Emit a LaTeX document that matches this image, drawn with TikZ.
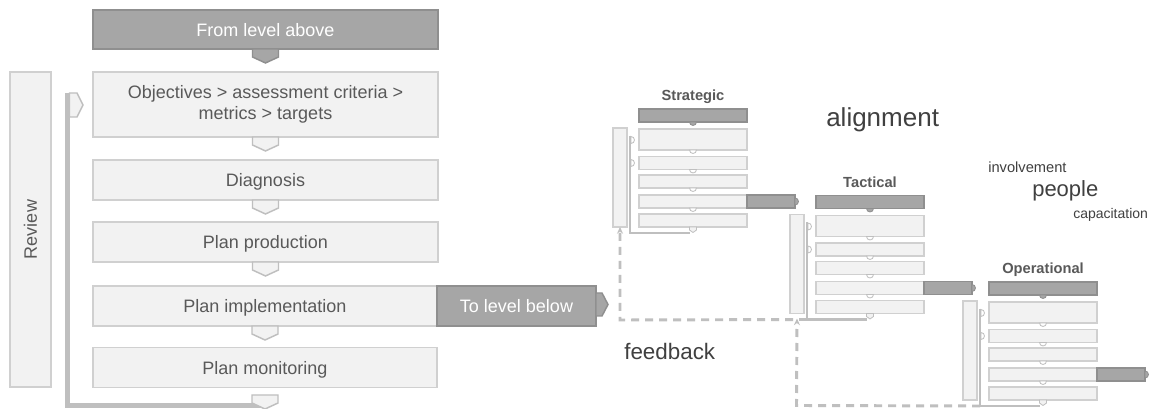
\documentclass[tikz,border=0pt]{standalone}
\usepackage{fontspec}
\setmainfont{Liberation Sans}
\usetikzlibrary{arrows.meta,calc}

\definecolor{darkfill}{HTML}{A6A6A6}
\definecolor{darkedge}{HTML}{8F8F8F}
\definecolor{lightfill}{HTML}{F2F2F2}
\definecolor{lightedge}{HTML}{D0D0D0}
\definecolor{linegray}{HTML}{BFBFBF}
\definecolor{textgray}{HTML}{595959}
\definecolor{wordgray}{HTML}{404040}

% one drawing unit = one pixel of the 1153 x 409 canvas
\newcommand\pxu{0.75pt}

\tikzset{
  sz/.style 2 args={minimum width=#1*\pxu, minimum height=#2*\pxu},
  boxbase/.style={inner sep=0pt, outer sep=0pt, line width=1.2pt, align=center},
  lbox/.style={boxbase, draw=lightedge, fill=lightfill, text=textgray,
               font=\fontsize{13.5}{16.5}\selectfont, text depth=0pt},
  dbox/.style={boxbase, draw=darkedge, fill=darkfill, text=white,
               font=\fontsize{13.5}{16.5}\selectfont, text depth=0pt},
  mlbox/.style={boxbase, line width=0.8pt, draw=lightedge, fill=lightfill},
  mdbox/.style={boxbase, line width=0.8pt, draw=darkedge, fill=darkfill},
  leveltitle/.style={anchor=base, text=textgray, font=\fontsize{11}{13}\selectfont\bfseries},
  word/.style={anchor=base west, text=wordgray, inner sep=0pt},
  fbthick/.style={draw=linegray, line width=3.8pt},
  fbthin/.style={draw=linegray, line width=1.9pt},
  fbdash/.style={draw=linegray, line width=2.2pt, dash pattern=on 6pt off 4.5pt,
                 -{Stealth[length=5pt,width=4.5pt]}},
  chevdown/.pic={\path[pic actions] (-13,0) -- (13,0) -- (13,8) -- (0,14) -- (-13,8) -- cycle;},
  minichev/.pic={\path[pic actions] (-3.5,0) -- (3.5,0) -- (3.5,3) -- (0,5.5) -- (-3.5,3) -- cycle;},
  lightchev/.style={draw=linegray, fill=lightfill, line width=1.1pt},
  darkchev/.style={draw=darkedge, fill=darkfill, line width=1.1pt},
}

% a small cup hanging below point #1, drawn with style #2
\newcommand\cupbelow[2]{%
  \draw[#2] ($#1+(-3.5,0)$) arc[start angle=180, end angle=0, radius=3.5] -- cycle;}
% a small cup on the right of point #1, drawn with style #2
\newcommand\cupright[2]{%
  \draw[#2] ($#1+(0,-3.5)$) arc[start angle=-90, end angle=90, radius=3.5] -- cycle;}

% one miniature planning cycle: #1 name prefix, #2/#3 shift, #4 title
\newcommand\levelunit[4]{%
  \begin{scope}[shift={(#2,#3)}]
    \node[leveltitle] (#1title) at (693,101) {#4};
    \node[mdbox, sz={108}{13}] (#1bar) at (693,115.5) {};
    \cupbelow{(#1bar.south)}{fill=darkfill, draw=darkedge, line width=0.6pt}
    \node[mlbox, sz={108}{21}] (#1b1) at (693,139.5) {};
    \node[mlbox, sz={108}{13}] (#1b2) at (693,163) {};
    \node[mlbox, sz={108}{13}] (#1b3) at (693,181.5) {};
    \node[mlbox, sz={108}{13}] (#1b4) at (693,201.5) {};
    \node[mlbox, sz={108}{13}] (#1b5) at (693,220.5) {};
    \foreach \b in {b1,b2,b3,b4}{\cupbelow{(#1\b.south)}{fill=white, draw=linegray, line width=0.6pt}}
    \node[mdbox, sz={48}{13}, anchor=west] (#1out) at (#1b4.east) {};
    \cupright{(#1out.east)}{fill=darkfill, draw=darkedge, line width=0.6pt}
    \node[mlbox, sz={14}{99}] (#1rev) at (620,177.5) {};
    \coordinate (#1fbtop) at (630,136);
    \coordinate (#1fbcorner) at (630,233);
    \pic[lightchev, line width=0.6pt] at (#1b5.south) {minichev};
    \draw[fbthin] (#1fbtop) -- (#1fbcorner) -- ($(#1b5.south)+(-3,6)$);
    \cupright{(631,140)}{fill=white, draw=linegray, line width=0.6pt}
    \cupright{(631,163)}{fill=white, draw=linegray, line width=0.6pt}
  \end{scope}}

\begin{document}
\begin{tikzpicture}[x=0.75pt, y=-0.75pt]
\useasboundingbox[fill=white] (0,0) rectangle (1153,409);

% ---------- the planning cycle ----------
\node[dbox, sz={345}{39}] (from) at (265.5,29.5) {From level above};
\pic[darkchev] at (from.south) {chevdown};

\node[lbox, sz={345}{65}, text depth=, text height=] (obj) at (265.5,104.5)
  {\raisebox{-3pt}{\begin{tabular}{@{}c@{}}Objectives > assessment criteria >\\[-0.6pt] metrics > targets\end{tabular}}};
\pic[lightchev] at (obj.south) {chevdown};

\node[lbox, sz={345}{40}] (diag) at (265.5,180) {Diagnosis};
\pic[lightchev] at (diag.south) {chevdown};

\node[lbox, sz={345}{40}] (prod) at (265.5,242) {Plan production};
\pic[lightchev] at (prod.south) {chevdown};

\node[lbox, sz={344}{40}] (impl) at (265,306) {Plan implementation};
\node[dbox, sz={159}{40}, anchor=west] (below) at (impl.east) {To level below};
\draw[darkchev] (below.north east) ++(0,7) -- ++(6,0) -- ++(6,11.5) -- ++(-6,11.5) -- ++(-6,0) -- cycle;
\pic[lightchev] at (impl.south) {chevdown};

\node[lbox, sz={344}{40}] (mon) at (265,367.5) {Plan monitoring};

\node[lbox, sz={41}{315}, text depth=, text height=] (review) at (30.5,229.5) {\rotatebox{90}{Review}};

% review loop back to the objectives
\coordinate (looptop) at (67.5,93);
\coordinate (loopcorner) at (67.5,405.5);
\draw[fbthick] (looptop) -- (loopcorner) -- (262,405.5);
\pic[lightchev] at ($(mon.south)+(0,7.5)$) {chevdown};
\draw[lightchev] (69.5,93) -- (77,93) -- (83,105) -- (77,117) -- (69.5,117) -- cycle;

% ---------- three nested levels ----------
\levelunit{s}{0}{0}{Strategic}
\levelunit{t}{177}{86.5}{Tactical}
\levelunit{o}{350}{173}{Operational}

% feedback between levels
\coordinate (fbA) at (620,320);
\coordinate (fbB) at (796.5,405.5);
\draw[fbdash] (tfbcorner) -- (fbA) -- (srev.south);
\draw[fbdash] (ofbcorner) -- (fbB) -- ($(tfbcorner)+(-10,-1)$);

% ---------- words ----------
\node[word, font=\fontsize{19.5}{22}\selectfont] (walign) at (826,127) {alignment};
\node[word, font=\fontsize{11}{13}\selectfont] (winv) at (988,173) {involvement};
\node[word, font=\fontsize{16.5}{19}\selectfont] (wpeople) at (1032,197) {people};
\node[word, font=\fontsize{10.5}{12}\selectfont] (wcap) at (1073,219) {capacitation};
\node[word, font=\fontsize{16.8}{19}\selectfont] (wfeed) at (624,360) {feedback};
\end{tikzpicture}
\end{document}
